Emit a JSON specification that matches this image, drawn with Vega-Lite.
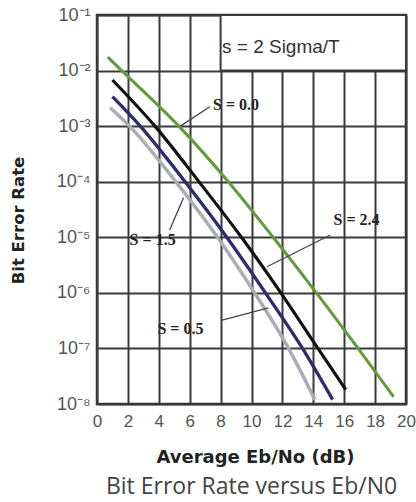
{
  "$schema": "https://vega.github.io/schema/vega-lite/v6.json",
  "width": 309,
  "height": 389,
  "autosize": {"type": "none"},
  "padding": {"left": 97, "top": 15, "right": 10, "bottom": 98},
  "background": "white",
  "title": {
    "text": "Bit Error Rate versus Eb/N0",
    "orient": "bottom",
    "anchor": "middle",
    "offset": 10,
    "font": "Open Sans",
    "fontSize": 23,
    "fontWeight": "normal",
    "color": "#444444"
  },
  "config": {
    "view": {"stroke": "#333333", "strokeWidth": 2.5},
    "axis": {"gridColor": "#3a3a3a", "gridWidth": 2, "gridOpacity": 1, "domain": false, "ticks": false}
  },
  "datasets": {
    "curves": [
      {"s": "S = 0.0", "x": 0.7, "y": 0.0174},
      {"s": "S = 0.0", "x": 1.6, "y": 0.01},
      {"s": "S = 0.0", "x": 5.3, "y": 0.001},
      {"s": "S = 0.0", "x": 8.5, "y": 0.0001},
      {"s": "S = 0.0", "x": 11.4, "y": 0.00001},
      {"s": "S = 0.0", "x": 14.2, "y": 0.000001},
      {"s": "S = 0.0", "x": 16.9, "y": 0.0000001},
      {"s": "S = 0.0", "x": 19.2, "y": 0.0000000135},
      {"s": "S = 2.4", "x": 1.0, "y": 0.00676},
      {"s": "S = 2.4", "x": 3.75, "y": 0.001},
      {"s": "S = 2.4", "x": 6.6, "y": 0.0001},
      {"s": "S = 2.4", "x": 9.35, "y": 0.00001},
      {"s": "S = 2.4", "x": 11.9, "y": 0.000001},
      {"s": "S = 2.4", "x": 14.3, "y": 0.0000001},
      {"s": "S = 2.4", "x": 16.1, "y": 0.0000000182},
      {"s": "S = 0.5", "x": 1.0, "y": 0.00339},
      {"s": "S = 0.5", "x": 2.8, "y": 0.001},
      {"s": "S = 0.5", "x": 5.7, "y": 0.0001},
      {"s": "S = 0.5", "x": 8.4, "y": 0.00001},
      {"s": "S = 0.5", "x": 10.9, "y": 0.000001},
      {"s": "S = 0.5", "x": 13.3, "y": 0.0000001},
      {"s": "S = 0.5", "x": 15.25, "y": 0.000000012},
      {"s": "S = 1.5", "x": 0.85, "y": 0.00214},
      {"s": "S = 1.5", "x": 2.1, "y": 0.001},
      {"s": "S = 1.5", "x": 5.1, "y": 0.0001},
      {"s": "S = 1.5", "x": 7.8, "y": 0.00001},
      {"s": "S = 1.5", "x": 10.2, "y": 0.000001},
      {"s": "S = 1.5", "x": 12.4, "y": 0.0000001},
      {"s": "S = 1.5", "x": 14.1, "y": 0.000000012}
    ],
    "box": [{"x": 8, "x2": 20, "y": 0.1, "y2": 0.01}],
    "boxText": [{"x": 11.9, "y": 0.0269, "label": "s = 2 Sigma/T"}],
    "leaders": [
      {"x": 5.4, "y": 0.001, "x2": 7.3, "y2": 0.00224},
      {"x": 15.1, "y": 0.0000110, "x2": 11.0, "y2": 0.00000295},
      {"x": 4.7, "y": 0.0000135, "x2": 5.6, "y2": 0.0000513},
      {"x": 8.1, "y": 0.000000324, "x2": 11.1, "y2": 0.000000537}
    ],
    "labels": [
      {"x": 9.0, "y": 0.0024, "label": "S = 0.0"},
      {"x": 16.8, "y": 0.0000204, "label": "S = 2.4"},
      {"x": 3.6, "y": 0.0000089, "label": "S = 1.5"},
      {"x": 5.4, "y": 0.000000224, "label": "S = 0.5"}
    ]
  },
  "encoding": {
    "x": {
      "field": "x",
      "type": "quantitative",
      "scale": {"domain": [0, 20], "nice": false, "zero": false},
      "axis": {
        "values": [0, 2, 4, 6, 8, 10, 12, 14, 16, 18, 20],
        "title": "Average Eb/No (dB)",
        "titleFont": "DejaVu Sans",
        "titleFontSize": 18,
        "titleFontWeight": "bold",
        "titleColor": "#222222",
        "titleX": 158,
        "titleY": 53,
        "titleAlign": "center",
        "titleBaseline": "middle",
        "labelFont": "Liberation Sans",
        "labelFontSize": 17,
        "labelColor": "#555555",
        "labelPadding": 9,
        "labelFlush": false,
        "labelOverlap": false,
        "grid": true
      }
    },
    "y": {
      "field": "y",
      "type": "quantitative",
      "scale": {"type": "log", "domain": [0.00000001, 0.1], "nice": false},
      "axis": {
        "values": [0.00000001, 0.0000001, 0.000001, 0.00001, 0.0001, 0.001, 0.01, 0.1],
        "labelExpr": "'10⁻' + ['⁰','¹','²','³','⁴','⁵','⁶','⁷','⁸','⁹'][round(-log(datum.value)/LN10)]",
        "title": "Bit Error Rate",
        "titleFont": "DejaVu Sans",
        "titleFontSize": 16.5,
        "titleFontWeight": "bold",
        "titleColor": "#222222",
        "titleX": -79,
        "titleY": 205,
        "titleAngle": -90,
        "titleAlign": "center",
        "titleBaseline": "middle",
        "labelFont": "Liberation Sans",
        "labelFontSize": 18,
        "labelColor": "#555555",
        "labelPadding": 7,
        "labelFlush": false,
        "labelOverlap": false,
        "grid": true
      }
    }
  },
  "layer": [
    {
      "data": {"name": "box"},
      "mark": {"type": "rect", "fill": "white", "stroke": "#3a3a3a", "strokeWidth": 2},
      "encoding": {"x2": {"field": "x2"}, "y2": {"field": "y2"}}
    },
    {
      "data": {"name": "boxText"},
      "mark": {"type": "text", "font": "Liberation Sans", "fontSize": 19, "color": "#333333", "align": "center", "baseline": "middle"},
      "encoding": {"text": {"field": "label"}}
    },
    {
      "data": {"name": "curves"},
      "mark": {"type": "line", "interpolate": "monotone"},
      "encoding": {
        "color": {
          "field": "s",
          "type": "nominal",
          "scale": {"domain": ["S = 0.0", "S = 2.4", "S = 0.5", "S = 1.5"], "range": ["#5e9c3c", "#111111", "#2c2c6e", "#acacb8"]},
          "legend": null
        },
        "strokeWidth": {
          "field": "s",
          "type": "nominal",
          "scale": {"domain": ["S = 0.0", "S = 2.4", "S = 0.5", "S = 1.5"], "range": [3, 3.5, 3, 2.5]},
          "legend": null
        }
      }
    },
    {
      "data": {"name": "leaders"},
      "mark": {"type": "rule", "color": "#444444", "strokeWidth": 1.3},
      "encoding": {"x2": {"field": "x2"}, "y2": {"field": "y2"}}
    },
    {
      "data": {"name": "labels"},
      "mark": {"type": "text", "font": "Liberation Serif", "fontSize": 16, "fontWeight": "bold", "color": "#222222", "align": "center", "baseline": "middle"},
      "encoding": {"text": {"field": "label"}}
    }
  ]
}
